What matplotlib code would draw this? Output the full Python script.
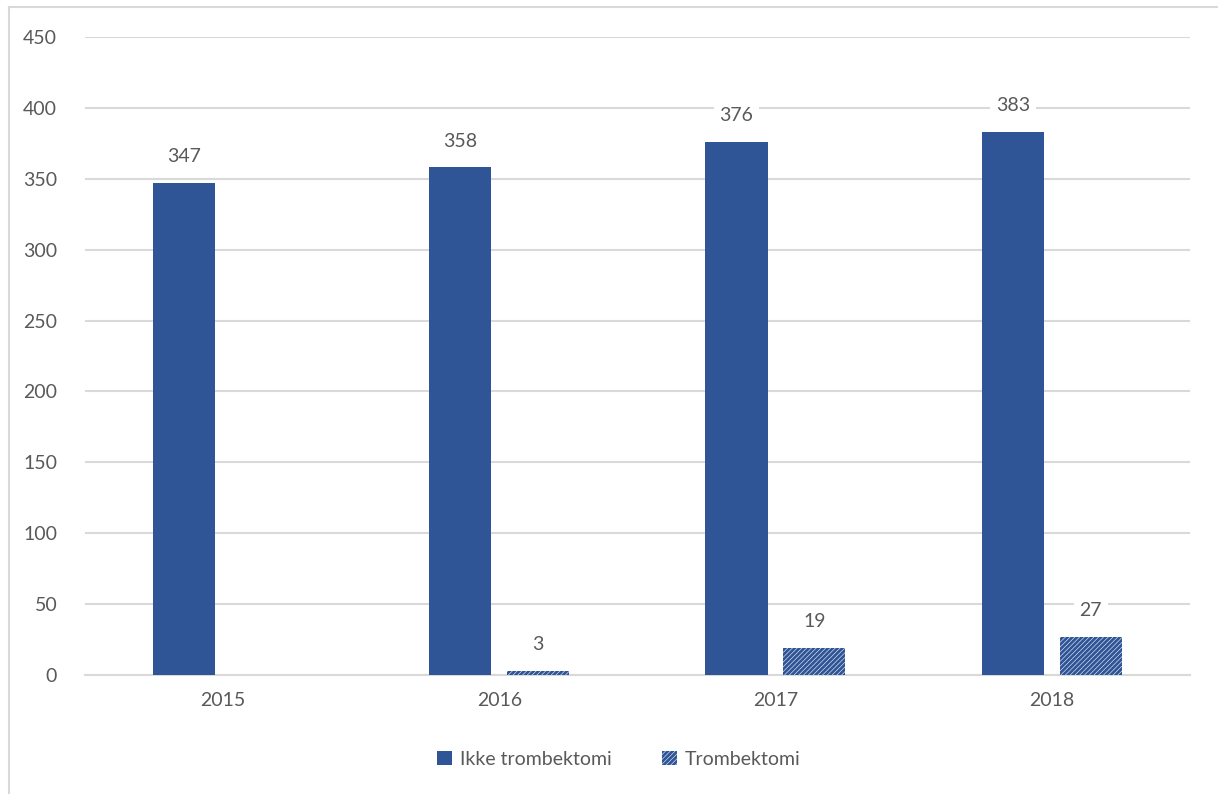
import matplotlib.pyplot as plt
import numpy as np

plt.rcParams["font.family"] = ["Lato", "DejaVu Sans"]
plt.rcParams["hatch.linewidth"] = 2.0
plt.rcParams["hatch.color"] = "#2F5597"

years = ["2015", "2016", "2017", "2018"]
ikke_trombektomi = [347, 358, 376, 383]
trombektomi = [np.nan, 3, 19, 27]

blue = "#2F5597"
text_col = "#595959"
grid_col = "#D9D9D9"

fig = plt.figure(figsize=(12.18, 7.94), dpi=100)
ax = fig.add_axes([0.0698, 0.150, 0.907, 0.8034])

x = np.arange(len(years))
w = 0.225
off = 0.141

b1 = ax.bar(x - off, ikke_trombektomi, w, color=blue, label="Ikke trombektomi", zorder=3)
b2 = ax.bar(x + off, trombektomi, w, facecolor="#EEF2FA", edgecolor=blue,
            hatch="///////", linewidth=0, label="Trombektomi", zorder=3)

for bars, vals in ((b1, ikke_trombektomi), (b2, trombektomi)):
    for rect, v in zip(bars, vals):
        if np.isnan(v):
            continue
        ax.annotate(f"{v:g}", (rect.get_x() + rect.get_width() / 2, v),
                    xytext=(0, 19), textcoords="offset points",
                    ha="center", va="center", fontsize=14, color=text_col,
                    bbox=dict(boxstyle="square,pad=0.3", fc="white", ec="none"),
                    zorder=4)

ax.set_xlim(-0.5, 3.5)
ax.set_ylim(0, 450)
ax.set_yticks(np.arange(0, 451, 50))
ax.set_xticks(x)
ax.set_xticklabels(years)
ax.tick_params(length=0, labelsize=14, colors=text_col)
ax.tick_params(axis="y", pad=20)
ax.tick_params(axis="x", pad=12)
ax.yaxis.grid(True, color=grid_col, linewidth=1.5, zorder=0)
ax.set_axisbelow(True)
for side in ("top", "right", "left"):
    ax.spines[side].set_visible(False)
ax.spines["bottom"].set_color(grid_col)
ax.spines["bottom"].set_linewidth(1.5)

leg = fig.legend(handles=[b1, b2], loc="center", bbox_to_anchor=(0.508, 0.044),
                 ncol=2, frameon=False, fontsize=14, handlelength=0.75,
                 handleheight=0.75, columnspacing=2.6, handletextpad=0.4)
for t in leg.get_texts():
    t.set_color(text_col)

# outer chart frame (top and left edges)
fig.add_artist(plt.Line2D([0.0075, 1.0], [0.991, 0.991], transform=fig.transFigure,
                          color=grid_col, linewidth=1.5))
fig.add_artist(plt.Line2D([0.0075, 0.0075], [0.0, 0.991], transform=fig.transFigure,
                          color=grid_col, linewidth=1.5))

fig.savefig("out.png", dpi=100)
